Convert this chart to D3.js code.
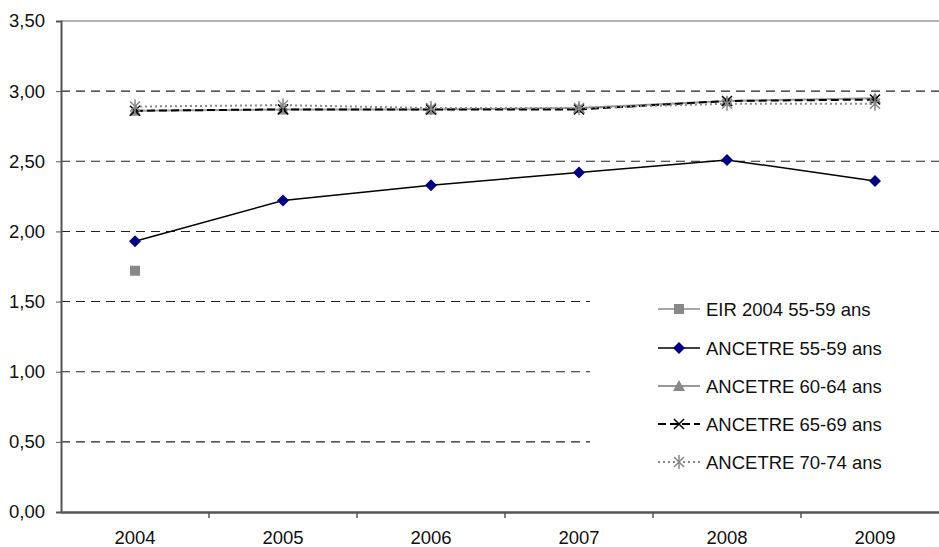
<!DOCTYPE html>
<html><head><meta charset="utf-8">
<script src="https://cdn.jsdelivr.net/npm/d3@7"></script>
<style>body{margin:0;background:#fff}svg{display:block}text{font-family:"Liberation Sans",Arial,sans-serif}</style>
</head><body>
<svg id="c" width="939" height="547"></svg>
<script>
const years = ["2004","2005","2006","2007","2008","2009"];
const yTicks = [0,0.5,1,1.5,2,2.5,3,3.5];
const eir5559 = [1.72,null,null,null,null,null];
const anc5559 = [1.93,2.22,2.33,2.42,2.51,2.36];
const anc6064 = [2.86,2.87,2.87,2.88,2.93,2.95];
const anc6569 = [2.86,2.87,2.87,2.87,2.93,2.94];
const anc7074 = [2.89,2.90,2.88,2.88,2.91,2.91];
const seriesNames = ["EIR 2004 55-59 ans","ANCETRE 55-59 ans","ANCETRE 60-64 ans","ANCETRE 65-69 ans","ANCETRE 70-74 ans"];

const svg = d3.select("#c");
const x = d3.scaleBand().domain(years).range([61,949]);
const y = d3.scaleLinear().domain([0,3.5]).range([512,21]);
const fmt = v => d3.format(".2f")(v).replace(".",",");
const FS = 18.5;

// gridlines
svg.append("g").selectAll("line").data(yTicks.filter(t=>t>0)).join("line")
  .attr("x1",61).attr("x2",949).attr("y1",d=>y(d)).attr("y2",d=>y(d))
  .attr("stroke",d=>d===3.5?"#999":"#222").attr("stroke-width",d=>d===3.5?1.5:1.1)
  .attr("stroke-dasharray",d=>d===3.5?null:"9,6");

// axes
const yAxis = svg.append("g").attr("transform","translate(61,0)")
  .call(d3.axisLeft(y).tickValues(yTicks).tickFormat(fmt).tickSize(5).tickPadding(11));
yAxis.select(".domain").attr("stroke","#555").attr("stroke-width",2);
yAxis.selectAll(".tick line").attr("stroke","#555");
yAxis.selectAll("text").attr("font-size",FS).attr("fill","#111");

const xAxis = svg.append("g").attr("transform","translate(0,512)")
  .call(d3.axisBottom(x).tickSize(0).tickPadding(19));
xAxis.select(".domain").attr("stroke","#555").attr("stroke-width",2.5);
xAxis.selectAll("text").attr("font-size",FS).attr("fill","#111");
svg.append("g").selectAll("line").data(years.slice(1)).join("line")
  .attr("x1",d=>x(d)).attr("x2",d=>x(d)).attr("y1",512).attr("y2",518).attr("stroke","#555").attr("stroke-width",1.5);

const cx = i => x(years[i]) + x.bandwidth()/2;
const line = d3.line().defined(d=>d!=null).x((d,i)=>cx(i)).y(d=>y(d));

const styles = [
  {data:eir5559, stroke:"#888", w:1.5, dash:null, marker:"square", mfill:"#888"},
  {data:anc5559, stroke:"#000", w:1.5, dash:null, marker:"diamond", mfill:"#000080"},
  {data:anc6064, stroke:"#999", w:2, dash:null, marker:"triangle", mfill:"#888"},
  {data:anc6569, stroke:"#000", w:2, dash:"8,4", marker:"x", mfill:"#000"},
  {data:anc7074, stroke:"#888", w:2, dash:"2,3", marker:"star", mfill:"#888"}
];

function drawMarker(g, type, px, py, col){
  if(type==="square") g.append("rect").attr("x",px-5).attr("y",py-5).attr("width",10).attr("height",10).attr("fill",col);
  else if(type==="diamond") g.append("path").attr("d",`M${px},${py-6}L${px+6},${py}L${px},${py+6}L${px-6},${py}Z`).attr("fill",col);
  else if(type==="triangle") g.append("path").attr("d",`M${px},${py-6}L${px+6},${py+5}L${px-6},${py+5}Z`).attr("fill",col);
  else if(type==="x") g.append("path").attr("d",`M${px-5},${py-5}L${px+5},${py+5}M${px+5},${py-5}L${px-5},${py+5}`).attr("stroke",col).attr("stroke-width",1.5);
  else if(type==="star") g.append("path").attr("d",`M${px-5},${py-5}L${px+5},${py+5}M${px+5},${py-5}L${px-5},${py+5}M${px},${py-7}L${px},${py+7}`).attr("stroke",col).attr("stroke-width",1.5);
}

// draw series
const order = [1,2,3,4,0];
order.forEach(k=>{
  const s = styles[k];
  const g = svg.append("g");
  g.append("path").datum(s.data).attr("d",line).attr("fill","none")
    .attr("stroke",s.stroke).attr("stroke-width",s.w).attr("stroke-dasharray",s.dash);
  s.data.forEach((v,i)=>{ if(v!=null) drawMarker(g,s.marker,cx(i),y(v),s.mfill); });
});

// legend
const lg = svg.append("g");
lg.append("rect").attr("x",590).attr("y",288).attr("width",349).attr("height",210).attr("fill","#fff");
const rowY = [309,348,386,424,462];
styles.forEach((s,i)=>{
  const yy = rowY[i];
  lg.append("line").attr("x1",658).attr("x2",700).attr("y1",yy).attr("y2",yy)
    .attr("stroke",s.stroke).attr("stroke-width",s.w).attr("stroke-dasharray",s.dash);
  drawMarker(lg,s.marker,679,yy,s.mfill);
  lg.append("text").attr("x",706).attr("y",yy).attr("dy","0.36em").attr("font-size",FS).attr("fill","#111").text(seriesNames[i]);
});
</script>
</body></html>
